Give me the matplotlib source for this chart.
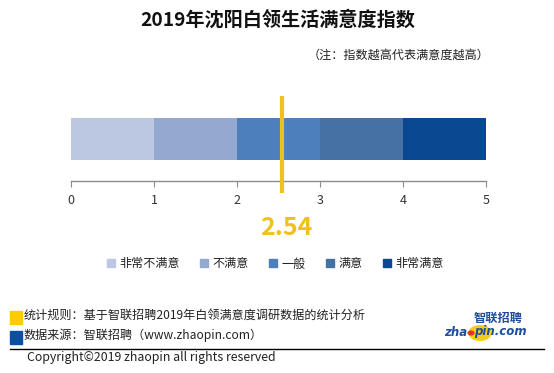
import matplotlib
matplotlib.use("Agg")
import matplotlib.pyplot as plt
from matplotlib.lines import Line2D
from matplotlib.patches import Circle, Rectangle

# data
levels = ["非常不满意", "不满意", "一般", "满意", "非常满意"]
level_starts = [0, 1, 2, 3, 4]
level_widths = [1, 1, 1, 1, 1]
level_colors = ["#BCC8E1", "#93A9D0", "#4C7FBC", "#4671A5", "#0A4892"]
score = 2.54
x_ticks = [0, 1, 2, 3, 4, 5]

title = "2019年沈阳白领生活满意度指数"
note = "（注：指数越高代表满意度越高）"
rule_text = "统计规则：基于智联招聘2019年白领满意度调研数据的统计分析"
source_text = "数据来源：智联招聘（www.zhaopin.com）"
copyright_text = "Copyright©2019 zhaopin all rights reserved"

plt.rcParams["font.family"] = ["Noto Sans CJK SC", "DejaVu Sans"]

W, H = 554, 373
fig = plt.figure(figsize=(W / 100, H / 100), dpi=100)
fig.patch.set_facecolor("white")


def fx(px):
    return px / W


def fy(py):
    return 1 - py / H


fig.text(fx(278), fy(20), title, ha="center", va="center", fontsize=13.8, fontweight="bold", color="#111111")
fig.text(fx(490), fy(55), note, ha="right", va="center", fontsize=8.7, color="#222222")

# main bar: axes spans the yellow marker height, y data in pixel rows
top, bottom = 96, 193
ax = fig.add_axes([fx(71), fy(bottom), fx(486) - fx(71), (bottom - top) / H])
ax.set_xlim(0, 5)
ax.set_ylim(bottom, top)
ax.barh(139, level_widths, left=level_starts, height=42, color=level_colors, linewidth=0)
for s in ["top", "right", "left"]:
    ax.spines[s].set_visible(False)
ax.spines["bottom"].set_position(("data", 181))
ax.spines["bottom"].set_color("#8C8C8C")
ax.spines["bottom"].set_linewidth(1.0)
ax.set_yticks([])
ax.set_xticks(x_ticks)
ax.tick_params(axis="x", direction="out", length=4, color="#8C8C8C", labelsize=9, labelcolor="#333333", pad=5)
ax.patch.set_alpha(0)

ax.plot([score, score], [top, bottom], color="#EBC21F", linewidth=3.0, solid_capstyle="butt", clip_on=False, zorder=5)
ax.annotate(f"{score:.2f}", xy=(score, bottom), xytext=(3, -25), textcoords="offset points",
            ha="center", va="center", fontsize=18, fontweight="bold", color="#F0C11A", annotation_clip=False)

handles = [Line2D([], [], linestyle="none", marker="s", markersize=6, markerfacecolor=c, markeredgecolor=c)
           for c in level_colors]
fig.legend(handles, levels, loc="center", bbox_to_anchor=(fx(275), fy(264)), ncol=5, frameon=False,
           fontsize=8.7, handlelength=0.8, handletextpad=0.3, columnspacing=1.6, labelcolor="#222222")

# footer
fig.patches.append(Rectangle((fx(10), fy(324)), fx(12), 13 / H, transform=fig.transFigure, color="#FFCC00"))
fig.patches.append(Rectangle((fx(10), fy(344)), fx(12), 13 / H, transform=fig.transFigure, color="#0B4EA2"))
fig.text(fx(24), fy(315), rule_text, ha="left", va="center", fontsize=8.7, color="#222222")
fig.text(fx(24), fy(335), source_text, ha="left", va="center", fontsize=8.7, color="#222222")
fig.add_artist(Line2D([fx(10), fx(544)], [fy(349), fy(349)], color="black", linewidth=1.0))
fig.text(fx(27), fy(358), copyright_text, ha="left", va="center", fontsize=8.9, color="#222222")

# logo
fig.patches.append(Circle((fx(480), fy(333)), 11 / W, transform=fig.transFigure, color="#F5CC1A", zorder=1))
fig.text(fx(467), fy(332), "zha", ha="right", va="center", fontsize=8.5, fontweight="bold", style="italic",
         color="#1E4E9E", family="DejaVu Sans", zorder=3)
fig.patches.append(Circle((fx(471), fy(333)), 2.8 / W, transform=fig.transFigure, color="#E0342B", zorder=3))
fig.text(fx(474), fy(332), "pin.com", ha="left", va="center", fontsize=8.5, fontweight="bold", style="italic",
         color="#1E4E9E", family="DejaVu Sans", zorder=3)
fig.text(fx(523), fy(318), "智联招聘", ha="right", va="center", fontsize=8.8, fontweight="bold", style="italic",
         color="#1E4E9E", zorder=3)

fig.savefig("out.png", dpi=100, facecolor="white")
